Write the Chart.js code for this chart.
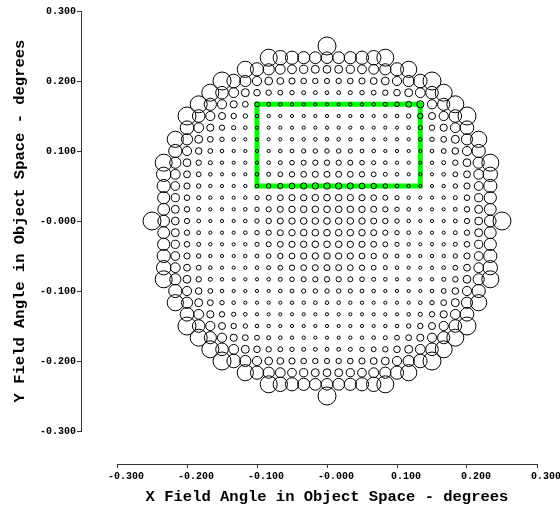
<!DOCTYPE html>
<html><head><meta charset="utf-8">
<script src="https://cdn.jsdelivr.net/npm/chart.js@4.4.0/dist/chart.umd.min.js"></script>
<style>html,body{margin:0;padding:0;background:#fff}</style>
</head><body>
<canvas id="c" width="560" height="506"></canvas>
<script>
// Field grid (degrees)
const fieldX = [-0.2500,-0.2333,-0.2167,-0.2000,-0.1833,-0.1667,-0.1500,-0.1333,-0.1167,-0.1000,-0.0833,-0.0667,-0.0500,-0.0333,-0.0167,0.0000,0.0167,0.0333,0.0500,0.0667,0.0833,0.1000,0.1167,0.1333,0.1500,0.1667,0.1833,0.2000,0.2167,0.2333,0.2500];
const fieldY = [0.2500,0.2333,0.2167,0.2000,0.1833,0.1667,0.1500,0.1333,0.1167,0.1000,0.0833,0.0667,0.0500,0.0333,0.0167,0.0000,-0.0167,-0.0333,-0.0500,-0.0667,-0.0833,-0.1000,-0.1167,-0.1333,-0.1500,-0.1667,-0.1833,-0.2000,-0.2167,-0.2333,-0.2500];

// Spot size per field point, row by row (centred rows, left to right)
const spotP15 = [90];
const spotP14 = [85,72,66,61,59,58,59,61,66,72,85];
const spotP13 = [81,66,56,49,44,41,40,39,40,41,44,49,56,66,81];
const spotP12 = [90,68,56,46,39,34,31,28,27,26,27,28,31,34,39,46,56,68,90];
const spotP11 = [85,63,49,40,33,27,24,22,20,19,19,19,20,22,24,27,33,40,49,63,85];
const spotP10 = [85,61,46,36,29,24,20,18,17,17,16,16,16,17,17,18,20,24,29,36,46,61,85];
const spotP9  = [90,63,46,35,27,22,18,17,16,16,16,16,16,16,16,16,16,17,18,22,27,35,46,63,90];
const spotP8  = [68,49,36,27,21,18,16,16,16,16,16,16,16,16,16,16,16,16,16,18,21,27,36,49,68];
const spotP7  = [81,56,40,29,22,18,16,16,16,16,17,17,18,18,18,17,17,16,16,16,16,18,22,29,40,56,81];
const spotP6  = [66,46,33,24,18,16,16,16,16,18,19,21,22,22,22,21,19,18,16,16,16,16,18,24,33,46,66];
const spotP5  = [85,56,39,27,20,17,16,16,16,18,20,23,25,26,27,26,25,23,20,18,16,16,16,17,20,27,39,56,85];
const spotP4  = [72,49,34,24,18,16,16,16,18,20,24,27,29,30,30,30,29,27,24,20,18,16,16,16,18,24,34,49,72];
const spotP3  = [66,44,31,22,17,16,16,17,19,23,27,29,31,32,32,32,31,29,27,23,19,17,16,16,17,22,31,44,66];
const spotP2  = [61,41,28,20,17,16,16,17,21,25,29,31,32,33,33,33,32,31,29,25,21,17,16,16,17,20,28,41,61];
const spotP1  = [59,40,27,19,16,16,16,18,22,26,30,32,33,33,33,33,33,32,30,26,22,18,16,16,16,19,27,40,59];
const spotZ0  = [90,58,39,26,19,16,16,16,18,22,27,30,32,33,33,33,33,33,32,30,27,22,18,16,16,16,19,26,39,58,90];
const spotM1  = [59,40,27,19,16,16,16,18,22,26,30,32,33,33,33,33,33,32,30,26,22,18,16,16,16,19,27,40,59];
const spotM2  = [61,41,28,20,17,16,16,17,21,25,29,31,32,33,33,33,32,31,29,25,21,17,16,16,17,20,28,41,61];
const spotM3  = [66,44,31,22,17,16,16,17,19,23,27,29,31,32,32,32,31,29,27,23,19,17,16,16,17,22,31,44,66];
const spotM4  = [72,49,34,24,18,16,16,16,18,20,24,27,29,30,30,30,29,27,24,20,18,16,16,16,18,24,34,49,72];
const spotM5  = [85,56,39,27,20,17,16,16,16,18,20,23,25,26,27,26,25,23,20,18,16,16,16,17,20,27,39,56,85];
const spotM6  = [66,46,33,24,18,16,16,16,16,18,19,21,22,22,22,21,19,18,16,16,16,16,18,24,33,46,66];
const spotM7  = [81,56,40,29,22,18,16,16,16,16,17,17,18,18,18,17,17,16,16,16,16,18,22,29,40,56,81];
const spotM8  = [68,49,36,27,21,18,16,16,16,16,16,16,16,16,16,16,16,16,16,18,21,27,36,49,68];
const spotM9  = [90,63,46,35,27,22,18,17,16,16,16,16,16,16,16,16,16,17,18,22,27,35,46,63,90];
const spotM10 = [85,61,46,36,29,24,20,18,17,17,16,16,16,17,17,18,20,24,29,36,46,61,85];
const spotM11 = [85,63,49,40,33,27,24,22,20,19,19,19,20,22,24,27,33,40,49,63,85];
const spotM12 = [90,68,56,46,39,34,31,28,27,26,27,28,31,34,39,46,56,68,90];
const spotM13 = [81,66,56,49,44,41,40,39,40,41,44,49,56,66,81];
const spotM14 = [85,72,66,61,59,58,59,61,66,72,85];
const spotM15 = [90];

const spotRows = [spotP15,spotP14,spotP13,spotP12,spotP11,spotP10,spotP9,spotP8,spotP7,spotP6,spotP5,spotP4,spotP3,spotP2,spotP1,spotZ0,
  spotM1,spotM2,spotM3,spotM4,spotM5,spotM6,spotM7,spotM8,spotM9,spotM10,spotM11,spotM12,spotM13,spotM14,spotM15];

// Highlighted field region
const regionX = [-0.1000, -0.1000, 0.1333, 0.1333, -0.1000];
const regionY = [0.0500, 0.1667, 0.1667, 0.0500, 0.0500];

const xTickLabels = ['-0.300','-0.200','-0.100','-0.000','0.100','0.200','0.300'];
const yTickLabels = ['-0.300','-0.200','-0.100','-0.000','0.100','0.200','0.300'];

const pxPerUnit = 0.1;
const spotPoints = [];
spotRows.forEach((row, ri) => {
  const start = (fieldX.length - row.length) / 2;
  row.forEach((v, k) => spotPoints.push({x: fieldX[start + k], y: fieldY[ri], r: v * pxPerUnit}));
});
const regionPoints = regionX.map((x, i) => ({x, y: regionY[i]}));

const tickFont = {family: 'Liberation Mono', size: 10, weight: 'bold'};
const titleFont = {family: 'Liberation Mono', size: 15.5, weight: 'bold'};
const gapScale = (axis, pos, size) => ({
  axis, position: pos, weight: 0, display: true,
  grid: {display: false, drawTicks: false}, border: {display: false},
  ticks: {display: false}, title: {display: false},
  afterFit(s) { if (axis === 'x') s.height = size; else s.width = size; }
});

new Chart(document.getElementById('c'), {
  type: 'bubble',
  data: {
    datasets: [
      {data: spotPoints, xAxisID: 'x', yAxisID: 'y', borderColor: '#000', borderWidth: 1,
       backgroundColor: 'rgba(0,0,0,0)', hoverRadius: 0, clip: false},
      {type: 'line', data: regionPoints, xAxisID: 'x', yAxisID: 'y', borderColor: '#00ff00',
       borderWidth: 5, pointRadius: 0, fill: false, tension: 0,
       borderJoinStyle: 'miter', borderCapStyle: 'square'}
    ]
  },
  options: {
    responsive: false, animation: false, devicePixelRatio: 1,
    layout: {padding: {top: 11, right: 23, bottom: 0, left: 0}},
    plugins: {legend: {display: false}, tooltip: {enabled: false}},
    events: [],
    scales: {
      x: {
        type: 'linear', position: 'bottom', weight: 1, min: -0.3, max: 0.3,
        afterFit(s) { s.height = 42; },
        grid: {drawOnChartArea: false, tickLength: 4, tickColor: '#333'},
        border: {display: true, color: '#333', width: 1},
        ticks: {stepSize: 0.1, autoSkip: false, maxRotation: 0, padding: 2, labelOffset: 9,
                font: tickFont, color: '#000', callback: (v, i) => xTickLabels[i]},
        title: {display: true, text: 'X Field Angle in Object Space - degrees', font: titleFont,
                color: '#000', padding: {top: 0, bottom: 0}}
      },
      xGap: gapScale('x', 'bottom', 33),
      y: {
        type: 'linear', position: 'left', weight: 1, min: -0.3, max: 0.3,
        afterFit(s) { s.width = 81; },
        grid: {drawOnChartArea: false, tickLength: 4, tickColor: '#333'},
        border: {display: true, color: '#333', width: 1},
        ticks: {stepSize: 0.1, autoSkip: false, padding: 1,
                font: tickFont, color: '#000', callback: (v, i) => yTickLabels[i]},
        title: {display: true, text: 'Y Field Angle in Object Space - degrees', font: titleFont,
                color: '#000', padding: {top: 11, bottom: 0}}
      },
      yGap: gapScale('y', 'left', 36)
    }
  }
});
</script>
</body></html>
